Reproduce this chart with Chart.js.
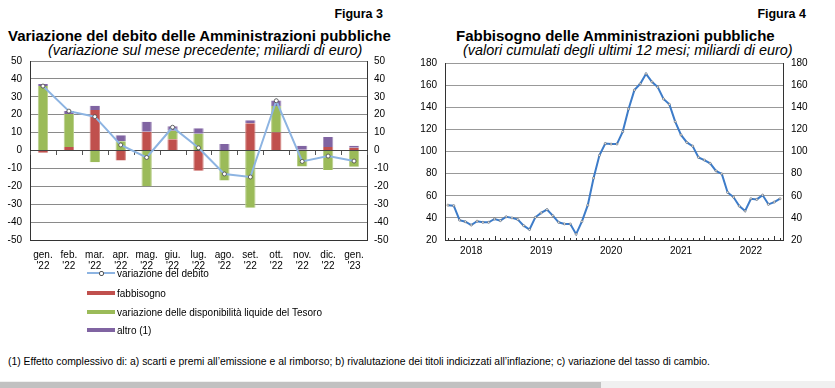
<!DOCTYPE html>
<html><head><meta charset="utf-8">
<script src="https://cdn.jsdelivr.net/npm/chart.js@4.4.1/dist/chart.umd.min.js"></script>
<style>
body{margin:0;width:835px;height:388px;position:relative;background:#fff;font-family:"Liberation Sans",Arial,sans-serif;overflow:hidden;color:#000}
.abs{position:absolute;white-space:nowrap;line-height:1}
.fig{font-weight:bold;font-size:12.5px}
.title{font-weight:bold;font-size:15px}
.sub{font-style:italic;font-size:14.4px}
.leg{font-size:10px}
.sw{position:absolute;left:87px;width:28px}
#foot{font-family:"Liberation Sans Narrow","Arial Narrow","Liberation Sans",sans-serif;font-size:11.5px;transform-origin:0 0}
</style></head>
<body>
<div class="abs fig" style="right:452px;top:8px">Figura 3</div>
<div class="abs title" style="left:8px;top:28px">Variazione del debito delle Amministrazioni pubbliche</div>
<div class="abs sub" style="left:48px;top:43px">(variazione sul mese precedente; miliardi di euro)</div>
<div class="abs fig" style="right:29px;top:8px">Figura 4</div>
<div class="abs title" style="left:456px;top:28px">Fabbisogno delle Amministrazioni pubbliche</div>
<div class="abs sub" style="left:463px;top:43px">(valori cumulati degli ultimi 12 mesi; miliardi di euro)</div>

<div class="abs" style="left:0;top:47px;width:400px;height:223px"><canvas id="c1" width="400" height="223"></canvas></div>
<div class="abs" style="left:405px;top:49px;width:430px;height:221px"><canvas id="c2" width="430" height="221"></canvas></div>

<div id="legend"></div>
<div id="foot" class="abs" style="left:8px;top:356px">(1) Effetto complessivo di: a) scarti e premi all’emissione e al rimborso; b) rivalutazione dei titoli indicizzati all’inflazione; c) variazione del tasso di cambio.</div>
<div class="abs" style="left:0;top:381px;width:835px;height:7px;background:#f0f0f0"></div>
<div class="abs" style="left:0;top:382px;width:601px;height:6px;background:#c1c1c1"></div>

<script>
// ---- Figura 3 data ----
const months = ['gen.','feb.','mar.','apr.','mag.','giu.','lug.','ago.','set.','ott.','nov.','dic.','gen.'];
const years  = ["'22","'22","'22","'22","'22","'22","'22","'22","'22","'22","'22","'22","'23"];
const fabbisogno = [-1.2, 1.9, 22.6, -5.6, 10.5, 6.3, -11.3, 0.3, 15.2, 10.2, 0.4, 2.0, 1.5];
const liquidita  = [36.1, 18.5, -6.5, 5.2, -20.0, 4.8, 9.4, -16.7, -32.0, 14.6, -8.9, -10.9, -9.1];
const altro      = [1.0, 1.6, 2.4, 3.3, 5.6, 2.4, 3.0, 3.3, 1.7, 3.2, 2.2, 5.6, 1.1];
const debito     = [36.0, 22.0, 18.9, 3.1, -3.9, 13.0, 1.5, -13.1, -14.8, 27.8, -6.1, -3.1, -5.9];
const seriesNames = ['variazione del debito','fabbisogno','variazione delle disponibilità liquide del Tesoro','altro (1)'];

// ---- Figura 4 data (Apr 2018 - Jan 2023) ----
const startYear = 2018, startMonth = 4;
const fabb12m = [51.5, 51.0, 38.0, 36.5, 33.5, 37.0, 36.0, 36.0, 39.0, 37.5, 41.0, 40.0, 38.5, 33.0, 29.5, 40.5,
  44.5, 47.5, 42.0, 36.0, 34.5, 34.5, 25.3, 36.8, 51.5, 76.0, 96.5, 107.2, 106.7, 106.7, 118.0, 138.5,
  155.5, 161.2, 170.2, 163.0, 158.2, 147.5, 142.6, 127.0, 115.0, 108.2, 104.9, 94.7, 92.3, 89.3, 82.5, 79.8,
  63.0, 58.8, 50.7, 46.2, 57.3, 56.7, 60.6, 52.2, 54.3, 57.3];
const yearLabels = ['2018','2019','2020','2021','2022'];

const FONT = {family:'"Liberation Sans", Arial, sans-serif', size:10};
Chart.defaults.font = FONT;
Chart.defaults.color = '#000';
Chart.defaults.animation = false;

const C_LINE='#8db4e2', C_RED='#c0504d', C_GREEN='#9bbb59', C_PURPLE='#8064a2';

// legend (HTML)
const legendDiv = document.getElementById('legend');
const legY = [273, 293, 312, 330];
const legCol = [C_LINE, C_RED, C_GREEN, C_PURPLE];
seriesNames.forEach((n,i)=>{
  const sw = document.createElement('div');
  sw.className='sw';
  if(i===0){
    sw.style.top=(legY[i]-1)+'px'; sw.style.height='2px'; sw.style.background=C_LINE;
    const dot=document.createElement('div');
    dot.style.cssText='position:absolute;left:12px;top:-1px;width:3px;height:3px;border-radius:2px;background:#fff;border:0.5px solid #555';
    sw.appendChild(dot);
  } else {
    sw.style.top=(legY[i]-2)+'px'; sw.style.height='4px'; sw.style.background=legCol[i];
  }
  legendDiv.appendChild(sw);
  const t=document.createElement('div');
  t.className='abs leg'; t.textContent=n; t.style.left='117px'; t.style.top=(legY[i]-4)+'px';
  legendDiv.appendChild(t);
});

const foot=document.getElementById('foot');
foot.style.transform=`scaleX(${702/foot.getBoundingClientRect().width})`;

const lighten = (hex,a)=>{const n=parseInt(hex.slice(1),16);const r=n>>16,g=(n>>8)&255,b=n&255;
  const f=v=>Math.round(v+(255-v)*a);return `rgb(${f(r)},${f(g)},${f(b)})`;};

const zeroTicks = {
  id:'zeroTicks',
  beforeDatasetsDraw(c){
    const x=c.scales.x, y=c.scales.y, ctx=c.ctx;
    const y0=Math.round(y.getPixelForValue(0));
    const step=x.getPixelForValue(1)-x.getPixelForValue(0);
    ctx.save(); ctx.strokeStyle='#555'; ctx.lineWidth=1;
    for(let i=0;i<=months.length;i++){
      const px=Math.round(x.getPixelForValue(0)-step/2+i*step)+0.5;
      ctx.beginPath(); ctx.moveTo(px,y0); ctx.lineTo(px,y0+4); ctx.stroke();
    }
    ctx.restore();
  }
};

const barStyle = c => ({backgroundColor:c,borderColor:lighten(c,0.3),borderWidth:{left:1,right:1,top:0,bottom:0},borderSkipped:false});
new Chart(document.getElementById('c1'),{
  data:{
    labels: months.map((m,i)=>[m, years[i]]),
    datasets:[
      {type:'line',label:seriesNames[0],data:debito,stack:'line',order:0,borderColor:C_LINE,borderWidth:2,
        pointRadius:2,pointBackgroundColor:'#fff',pointBorderColor:'#444',pointBorderWidth:0.8,tension:0},
      {type:'bar',label:seriesNames[1],data:fabbisogno,stack:'bars',order:1,...barStyle(C_RED)},
      {type:'bar',label:seriesNames[2],data:liquidita,stack:'bars',order:1,...barStyle(C_GREEN)},
      {type:'bar',label:seriesNames[3],data:altro,stack:'bars',order:1,...barStyle(C_PURPLE)}
    ]
  },
  options:{
    responsive:false, maintainAspectRatio:false,
    layout:{padding:{top:0,left:0,right:0,bottom:0}},
    datasets:{bar:{categoryPercentage:1,barPercentage:0.4}},
    plugins:{legend:{display:false},tooltip:{enabled:false}},
    scales:{
      x:{stacked:true,offset:true,grid:{display:false,drawTicks:false},border:{display:true,color:'#333'},
         ticks:{maxRotation:0,autoSkip:false,padding:9,font:{size:10,lineHeight:1.15}},
         afterFit(s){s.height=30;}},
      y:{stacked:true,position:'left',min:-50,max:50,
         grid:{drawTicks:false,color:ctx=>ctx.tick.value===0?'#444':'#8a8a8a'},
         border:{display:true,color:'#333'},
         ticks:{stepSize:10,padding:8},
         afterFit(s){s.width=30;}},
      y2:{position:'right',min:-50,max:50,grid:{drawOnChartArea:false,drawTicks:false},
         border:{display:true,color:'#333'},ticks:{stepSize:10,padding:7},
         afterFit(s){s.width=33;}}
    }
  },
  plugins:[zeroTicks]
});

// ---- Figura 4 ----
const monthKeys = fabb12m.map((_,i)=>{const t=(startYear*12+startMonth-1)+i;return {y:Math.floor(t/12),m:t%12+1};});
const axisTicks = {
  id:'axisTicks',
  afterDraw(c){
    const x=c.scales.x, ctx=c.ctx, yb=Math.round(c.chartArea.bottom);
    ctx.save(); ctx.strokeStyle='#333'; ctx.lineWidth=1;
    monthKeys.forEach((k,i)=>{
      const px=Math.round(x.getPixelForValue(i))+0.5;
      const len=(k.m===6||k.m===12)?4:2;
      ctx.beginPath(); ctx.moveTo(px,yb); ctx.lineTo(px,yb-len); ctx.stroke();
    });
    ctx.restore();
  }
};
new Chart(document.getElementById('c2'),{
  type:'line',
  data:{
    labels: monthKeys.map(k=>k.y+'-'+String(k.m).padStart(2,'0')),
    datasets:[{data:fabb12m,borderColor:'#3d7cc9',borderWidth:2,pointRadius:1.1,
      pointBackgroundColor:'#e8e8e8',pointBorderColor:'#444',pointBorderWidth:0.4,tension:0}]
  },
  options:{
    responsive:false, maintainAspectRatio:false,
    layout:{padding:{top:0,left:0,right:0,bottom:0}},
    plugins:{legend:{display:false},tooltip:{enabled:false}},
    scales:{
      x:{offset:true,grid:{display:false,drawTicks:false},border:{display:true,color:'#333'},
         ticks:{autoSkip:false,maxRotation:0,padding:5,
           callback:(v,i)=>{const k=monthKeys[i];return (k.m===8 && yearLabels.includes(String(k.y)))?String(k.y):'';}},
         afterFit(s){s.height=30;}},
      y:{position:'left',min:20,max:180,
         grid:{drawTicks:false,color:'#999'},border:{display:true,color:'#333'},
         ticks:{stepSize:20,padding:8},afterFit(s){s.width=40;}},
      y2:{position:'right',min:20,max:180,grid:{drawOnChartArea:false,drawTicks:false},
         border:{display:true,color:'#333'},ticks:{stepSize:20,padding:8},afterFit(s){s.width=52;}}
    }
  },
  plugins:[axisTicks]
});
</script>
</body></html>
